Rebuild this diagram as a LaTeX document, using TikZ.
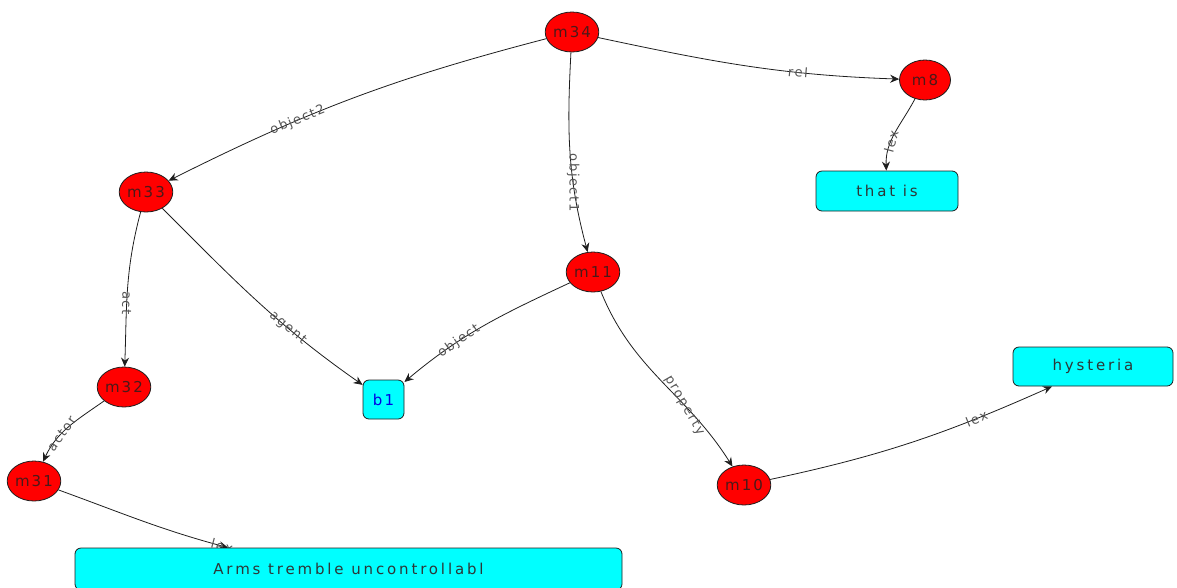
\documentclass[tikz,border=0pt]{standalone}
\usepackage{fontspec}
\usetikzlibrary{arrows.meta,shapes.geometric}
\newfontfamily\boxfont{DejaVu Sans}[LetterSpace=19]
\newfontfamily\idfont{DejaVu Sans}[LetterSpace=14]
\newfontfamily\edgefont{DejaVu Sans}[LetterSpace=12]
\definecolor{nodered}{RGB}{255,0,0}
\definecolor{boxcyan}{RGB}{0,255,255}
\definecolor{idtext}{RGB}{75,25,25}
\definecolor{boxtext}{RGB}{45,55,55}
\definecolor{edgetext}{RGB}{85,85,85}
\definecolor{edgeline}{RGB}{30,30,30}
\pgfdeclarelayer{background}
\pgfsetlayers{background,main}
\tikzset{
  molnode/.style={ellipse, draw=edgeline, line width=0.8pt, fill=nodered,
    minimum width=51pt, minimum height=40pt, inner sep=0pt,
    font=\idfont\fontsize{15pt}{17pt}\selectfont, text=idtext},
  basebox/.style={rectangle, rounded corners=6pt, draw=edgeline, line width=0.8pt,
    fill=boxcyan, inner sep=0pt,
    font=\boxfont\fontsize{15pt}{17pt}\selectfont, text=boxtext},
  arc/.style={draw=edgeline, line width=0.8pt,
    -{Stealth[length=9pt,width=8pt,inset=3pt]}},
  elabel/.style={font=\edgefont\fontsize{13pt}{15pt}\selectfont, text=edgetext,
    inner sep=0pt}
}
\begin{document}
\begin{tikzpicture}[x=1pt,y=1pt]
\useasboundingbox (0,-587) rectangle (1177,0);
\clip (0,-587) rectangle (1177,0);

% molecular nodes
\node[molnode] (m34) at (572,-32) {m34};
\node[molnode] (m8)  at (925,-80) {m8};
\node[molnode] (m33) at (146,-192) {m33};
\node[molnode] (m11) at (593,-272) {m11};
\node[molnode] (m32) at (124,-387) {m32};
\node[molnode] (m31) at (34,-481) {m31};
\node[molnode] (m10) at (744,-485) {m10};

% base nodes
\node[basebox, minimum width=142pt, minimum height=40pt] (thatis) at (887,-191) {that is};
\node[basebox, minimum width=41pt, minimum height=39pt, text=blue!90!black,
      font=\idfont\fontsize{15pt}{17pt}\selectfont] (b1) at (383.5,-399.5) {b1};
\node[basebox, minimum width=160pt, minimum height=39pt] (hyst) at (1093,-366.5) {hysteria};
\node[basebox, minimum width=547pt, minimum height=42pt] (arms) at (348.5,-569) {Arms tremble uncontrollabl};

% arcs
\begin{pgfonlayer}{background}
\draw[arc] (m34) to[bend right=6]
  node[elabel, pos=0.66, rotate=22] {object2} (m33);
\draw[arc] (m34) to[out=-93,in=105]
  node[elabel, pos=0.66, rotate=-90] {object1} (m11);
\draw[arc] (m34) to[out=-12,in=178]
  node[elabel, pos=0.68, rotate=-5] {rel} (m8);
\draw[arc] (m8) to[out=-118,in=92]
  node[elabel, pos=0.62, rotate=75] {lex} (thatis);
\draw[arc] (m33) to[out=-105,in=88]
  node[elabel, pos=0.6, rotate=-92] {act} (m32);
\draw[arc] (m33) to[out=-45,in=145]
  node[elabel, pos=0.66, rotate=-40] {agent} (b1);
\draw[arc] (m11) to[out=205,in=40]
  node[elabel, pos=0.66, rotate=35] {object} (b1);
\draw[arc] (m11) to[out=-68,in=122]
  node[elabel, pos=0.66, rotate=-60] {property} (m10);
\draw[arc] (m10) to[out=12,in=204]
  node[elabel, pos=0.74, rotate=22] {lex} (hyst.south west -| 1052,0);
\draw[arc] (m32) to[out=-145,in=65]
  node[elabel, pos=0.62, rotate=55] {actor} (m31);
\draw[arc] (m31) to[out=-20,in=165]
  node[elabel, pos=0.97, rotate=-15] {lex} (arms.north west -| 228,0);
\end{pgfonlayer}
\end{tikzpicture}
\end{document}
